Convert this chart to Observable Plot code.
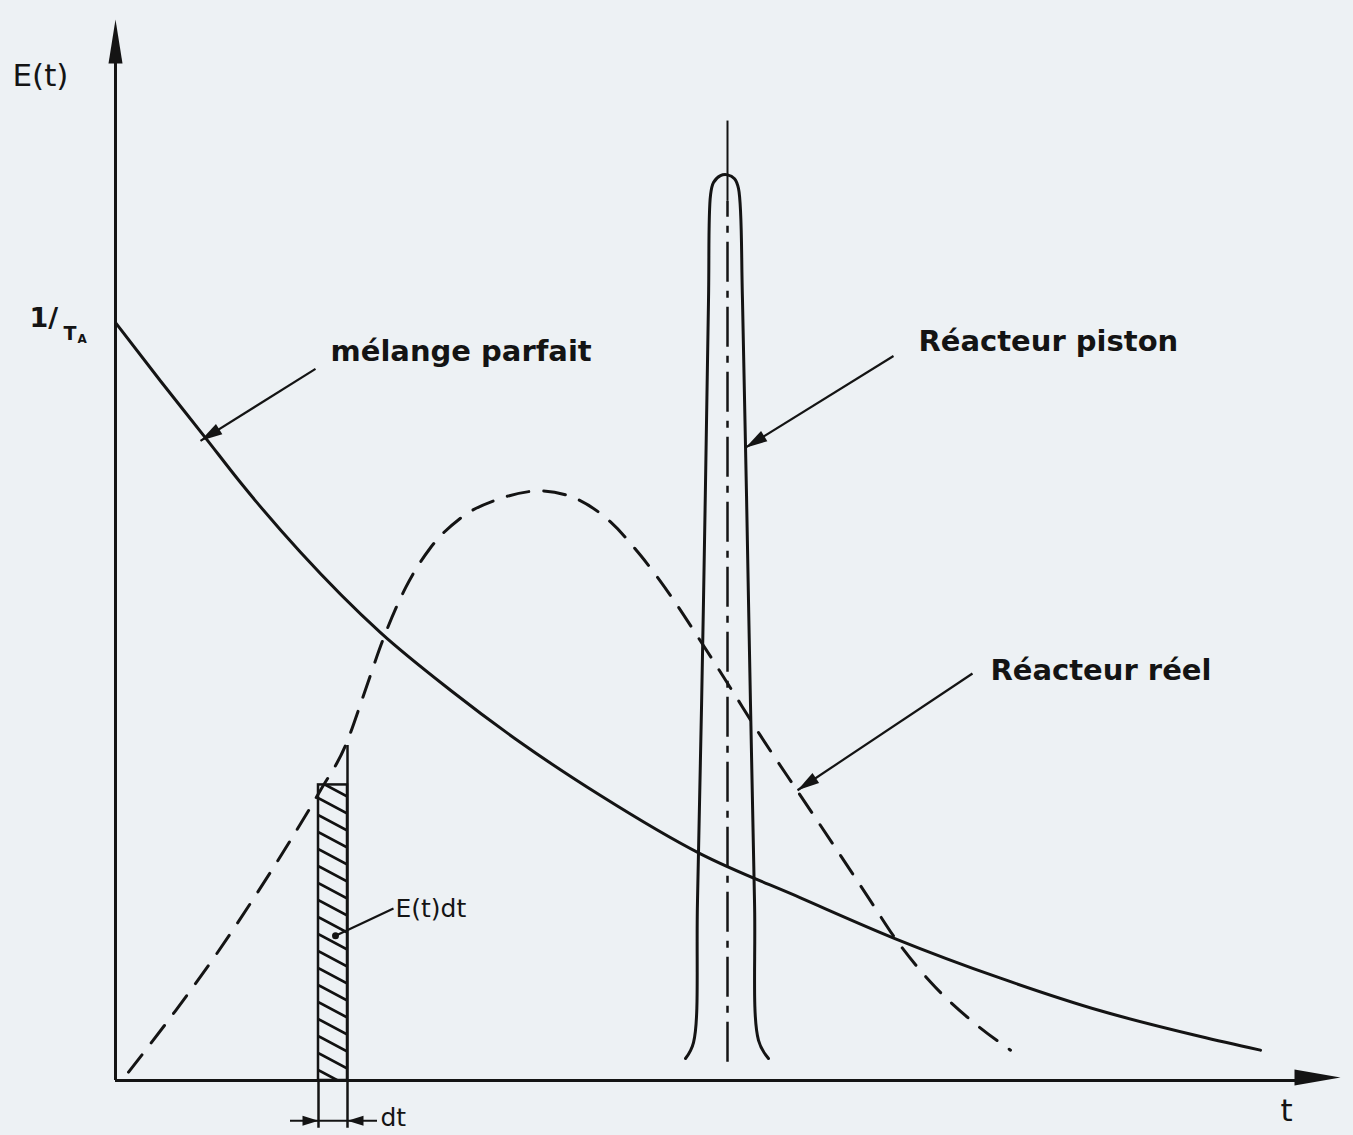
<!DOCTYPE html>
<html><head><meta charset="utf-8">
<script src="https://cdn.jsdelivr.net/npm/d3@7"></script>
<script src="https://cdn.jsdelivr.net/npm/@observablehq/plot@0.6"></script>
<style>body{margin:0;background:#edf1f4} svg{display:block}</style>
</head><body>
<svg width="0" height="0" style="position:absolute"><defs>
<pattern id="hatch" patternUnits="userSpaceOnUse" width="32" height="17">
<path d="M-4,-2.1L36,19.1M-4,14.9L4,19.1M28,-2.1L36,2.1" stroke="#111" stroke-width="2.8" fill="none"/>
</pattern></defs></svg>
<div id="chart"></div>
<script>
// ---- data (t in arbitrary units, E relative to 1/tauA) ----
const mixT  = [0, 0.45, 0.90, 1.25, 1.85, 2.65, 3.35, 4.05, 4.85, 5.85, 6.85, 7.80, 8.85, 9.85, 10.85, 11.45];
const mixE  = [1.000, 0.923, 0.848, 0.789, 0.697, 0.591, 0.515, 0.446, 0.376, 0.299, 0.241, 0.187, 0.135, 0.092, 0.058, 0.040];

const realT = [0.13, 0.60, 1.00, 1.40, 1.75, 2.05, 2.30, 2.48, 2.67, 2.90, 3.15, 3.45, 3.85, 4.25, 4.60, 4.95, 5.25, 5.55, 5.85, 6.15, 6.45, 6.85, 7.25, 7.55, 7.80, 8.15, 8.55, 8.95];
const realE = [0.011, 0.092, 0.165, 0.244, 0.317, 0.383, 0.442, 0.508, 0.580, 0.650, 0.703, 0.742, 0.768, 0.778, 0.768, 0.737, 0.693, 0.640, 0.580, 0.518, 0.455, 0.376, 0.297, 0.237, 0.187, 0.130, 0.080, 0.040];

const pistonT = [5.70, 5.78, 5.82, 5.88, 5.93, 5.95, 5.98, 6.05, 6.12, 6.19, 6.23, 6.27, 6.33, 6.39, 6.43, 6.53];
const pistonE = [0.029, 0.050, 0.237, 0.633, 1.029, 1.168, 1.185, 1.194, 1.195, 1.190, 1.177, 1.029, 0.633, 0.237, 0.053, 0.029];
const pistonCenterT = 6.12;
const pistonLineTopE = 1.266;
const pistonPeakE = 1.16;

const stripT = [2.03, 2.32];     // dt strip
const stripTopE = 0.39;
const stripRightTopE = 0.442;
const dimE = -0.053;

// annotation labels
const labelText = ["mélange parfait", "Réacteur piston", "Réacteur réel"];
const labelT    = [2.15, 8.03, 8.75];
const labelE    = [0.962, 0.975, 0.541];
// annotation arrows: start -> tip
const arrowT1 = [2.00, 7.78, 8.57];
const arrowE1 = [0.939, 0.956, 0.537];
const arrowT2 = [0.85, 6.30, 6.82];
const arrowE2 = [0.844, 0.835, 0.383];

const axisTitleText = ["E(t)", "t"];
const axisTitleT = [-1.03, 11.65];
const axisTitleE = [1.326, -0.040];

// ---- layout ----
const W = 1353, H = 1135, ML = 115, MR = 13, MT = 19, MB = 55;
const X_MAX = 12.25, Y_MAX = 1.4;
const kx = (W - ML - MR) / X_MAX, ky = (H - MT - MB) / Y_MAX;
const ink = "#141414";
const font = "DejaVu Sans, sans-serif";

const zip = (ts, es) => ts.map((t, i) => ({t, E: es[i]}));
const mix = zip(mixT, mixE), real = zip(realT, realE), piston = zip(pistonT, pistonE);
const angle = (t1, e1, t2, e2) => {
  const dx = (t2 - t1) * kx, dy = -(e2 - e1) * ky;
  return Math.atan2(dx, -dy) * 180 / Math.PI;
};
const arrows = arrowT1.map((t, i) => ({t1: t, e1: arrowE1[i], t2: arrowT2[i], e2: arrowE2[i],
  rot: angle(t, arrowE1[i], arrowT2[i], arrowE2[i])}));
const labels = labelText.map((s, i) => ({s, t: labelT[i], E: labelE[i]}));
const axisTitles = axisTitleText.map((s, i) => ({s, t: axisTitleT[i], E: axisTitleE[i]}));

const spike = (data, opts) => Plot.vector(data, {shape: "spike", anchor: "end", fill: ink, stroke: "none", ...opts});

const plot = Plot.plot({
  width: W, height: H,
  marginLeft: ML, marginRight: MR, marginTop: MT, marginBottom: MB,
  x: {domain: [0, X_MAX], axis: null},
  y: {domain: [0, Y_MAX], axis: null},
  style: {background: "#edf1f4", fontFamily: font, color: ink},
  marks: [
    // axes
    Plot.ruleX([0], {y1: 0, y2: 1.35, stroke: ink, strokeWidth: 3}),
    Plot.ruleY([0], {x1: 0, x2: 11.85, stroke: ink, strokeWidth: 3}),
    spike([{t: 0, E: Y_MAX}], {x: "t", y: "E", length: 44, r: 7, rotate: 0}),
    spike([{t: X_MAX, E: 0.004}], {x: "t", y: "E", length: 46, r: 8, rotate: 90}),

    // hatched strip E(t)dt
    Plot.rect([{a: stripT[0], b: stripT[1]}], {x1: "a", x2: "b", y1: 0, y2: stripTopE, fill: "url(#hatch)", stroke: ink, strokeWidth: 2.5}),
    Plot.ruleX([stripT[1]], {y1: dimE - 0.01, y2: stripRightTopE, stroke: ink, strokeWidth: 2.5}),
    Plot.ruleX([stripT[0]], {y1: dimE - 0.01, y2: 0, stroke: ink, strokeWidth: 2.5}),
    Plot.ruleY([dimE], {x1: stripT[0] - 0.28, x2: stripT[1] + 0.3, stroke: ink, strokeWidth: 2}),
    spike([{t: stripT[0], E: dimE}], {x: "t", y: "E", length: 16, r: 5, rotate: 90}),
    spike([{t: stripT[1], E: dimE}], {x: "t", y: "E", length: 16, r: 5, rotate: -90}),

    // curves
    Plot.line(mix, {x: "t", y: "E", curve: "monotone-x", stroke: ink, strokeWidth: 3}),
    Plot.line(real, {x: "t", y: "E", curve: "monotone-x", stroke: ink, strokeWidth: 3, strokeDasharray: "22,15"}),
    Plot.line(piston, {x: "t", y: "E", curve: "catmull-rom", stroke: ink, strokeWidth: 3}),
    Plot.ruleX([pistonCenterT], {y1: pistonPeakE, y2: pistonLineTopE, stroke: ink, strokeWidth: 2}),
    Plot.ruleX([pistonCenterT], {y1: 0.024, y2: pistonPeakE, stroke: ink, strokeWidth: 2.5, strokeDasharray: "40,9,7,9"}),

    // annotation arrows
    Plot.link(arrows, {x1: "t1", y1: "e1", x2: "t2", y2: "e2", stroke: ink, strokeWidth: 2.2}),
    spike(arrows, {x: "t2", y: "e2", rotate: "rot", length: 22, r: 6}),
    Plot.link([{a: 2.78, b: 0.227, c: 2.20, d: 0.191}], {x1: "a", y1: "b", x2: "c", y2: "d", stroke: ink, strokeWidth: 2.2}),
    Plot.dot([{t: 2.20, E: 0.191}], {x: "t", y: "E", r: 3.5, fill: ink}),

    // texts
    Plot.text(labels, {x: "t", y: "E", text: "s", fontSize: 29, textAnchor: "start", fill: ink, fontWeight: "bold", lineAnchor: "middle"}),
    Plot.text(axisTitles, {x: "t", y: "E", text: "s", fontSize: 31, textAnchor: "start", fill: ink, lineAnchor: "middle"}),
    Plot.text([{t: 2.80, E: 0.226, s: "E(t)dt"}], {x: "t", y: "E", text: "s", fontSize: 25, textAnchor: "start", fill: ink, lineAnchor: "middle"}),
    Plot.text([{t: 2.65, E: -0.050, s: "dt"}], {x: "t", y: "E", text: "s", fontSize: 25, textAnchor: "start", fill: ink, lineAnchor: "middle"}),
    Plot.text([{t: -0.86, E: 1.006, s: "1/"}], {x: "t", y: "E", text: "s", fontSize: 27, textAnchor: "start", fill: ink, fontWeight: "bold", lineAnchor: "middle"}),
    Plot.text([{t: -0.52, E: 0.985, s: "T"}], {x: "t", y: "E", text: "s", fontSize: 19, textAnchor: "start", fill: ink, fontWeight: "bold", lineAnchor: "middle"}),
    Plot.text([{t: -0.38, E: 0.978, s: "A"}], {x: "t", y: "E", text: "s", fontSize: 12, textAnchor: "start", fill: ink, fontWeight: "bold", lineAnchor: "middle"})
  ]
});
document.getElementById("chart").appendChild(plot);
</script>
</body></html>
